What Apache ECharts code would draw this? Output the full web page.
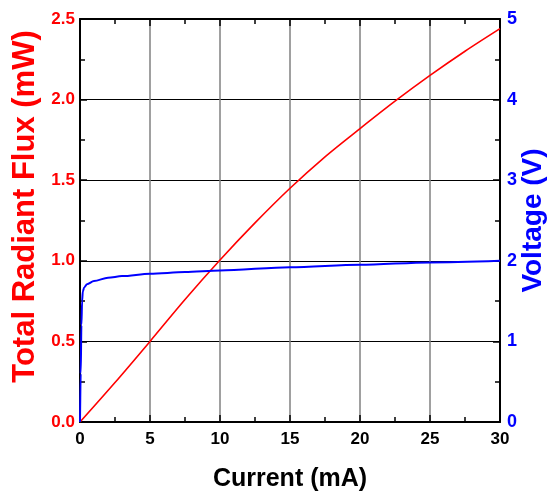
<!DOCTYPE html>
<html>
<head>
<meta charset="utf-8">
<script src="https://cdn.jsdelivr.net/npm/echarts@6/dist/echarts.min.js"></script>
<style>html,body{margin:0;padding:0;background:#fff}#c{width:555px;height:500px}</style>
</head>
<body>
<div id="c"></div>
<script>
const fluxCurrent = [0, 2.5, 5, 7.5, 10, 12.5, 15, 17.5, 20, 22.5, 25, 27.5, 30];
const fluxValues = [0, 0.245, 0.50, 0.76, 1.005, 1.235, 1.45, 1.645, 1.82, 1.99, 2.15, 2.30, 2.44];
const voltCurrent = [0, 0.05, 0.1, 0.15, 0.2, 0.3, 0.5, 1, 2, 3, 5, 7.5, 10, 15, 20, 25, 30];
const voltValues = [0, 0.6, 1.2, 1.5, 1.62, 1.67, 1.71, 1.75, 1.79, 1.81, 1.84, 1.86, 1.88, 1.92, 1.95, 1.98, 2.0];
const xTicks = [0, 5, 10, 15, 20, 25, 30];

const font = '"Liberation Sans", Arial, sans-serif';
const chart = echarts.init(document.getElementById('c'), null, {renderer: 'canvas'});
const tickInside = {show: true, inside: true, length: 7, lineStyle: {color: '#000', width: 1.5}};
const minorInside = {show: true, splitNumber: 2, length: 5, lineStyle: {color: '#000', width: 1.5}};
chart.setOption({
  animation: false,
  grid: {left: 80, right: 55, top: 19, bottom: 78, outerBoundsMode: 'none', containLabel: false},
  xAxis: [{
    type: 'value', min: 0, max: 30, interval: 5, position: 'bottom',
    name: 'Current (mA)', nameLocation: 'middle', nameGap: 45,
    nameTextStyle: {fontFamily: font, fontWeight: 'bold', fontSize: 25, color: '#000'},
    axisLine: {show: true, onZero: false, lineStyle: {color: '#000', width: 2}},
    axisTick: tickInside, minorTick: minorInside,
    axisLabel: {fontFamily: font, fontWeight: 'bold', fontSize: 17, color: '#000', margin: 9,
      formatter: v => xTicks.includes(v) ? String(v) : ''},
    splitLine: {show: true, lineStyle: {color: '#808080', width: 1.5}}
  }, {
    type: 'value', min: 0, max: 30, interval: 5, position: 'top',
    axisLine: {show: true, onZero: false, lineStyle: {color: '#000', width: 2}},
    axisTick: tickInside, minorTick: minorInside,
    axisLabel: {show: false}, splitLine: {show: false}
  }],
  yAxis: [{
    type: 'value', min: 0, max: 2.5, interval: 0.5, position: 'left',
    name: 'Total Radiant Flux (mW)', nameLocation: 'middle', nameGap: 38,
    nameTextStyle: {fontFamily: font, fontWeight: 'bold', fontSize: 31, color: '#ff0000', padding: [0, 0, 0, 28]},
    axisLine: {show: true, onZero: false, lineStyle: {color: '#000', width: 2}},
    axisTick: tickInside, minorTick: minorInside,
    axisLabel: {fontFamily: font, fontWeight: 'bold', fontSize: 17, color: '#ff0000', margin: 5,
      formatter: v => v.toFixed(1)},
    splitLine: {show: true, lineStyle: {color: '#000', width: 1}}
  }, {
    type: 'value', min: 0, max: 5, interval: 1, position: 'right',
    name: 'Voltage (V)', nameLocation: 'middle', nameGap: 19, nameMoveOverlap: false,
    nameTextStyle: {fontFamily: font, fontWeight: 'bold', fontSize: 28, color: '#0000ff'},
    axisLine: {show: true, onZero: false, lineStyle: {color: '#000', width: 2}},
    axisTick: tickInside, minorTick: minorInside,
    axisLabel: {fontFamily: font, fontWeight: 'bold', fontSize: 18, color: '#0000ff', margin: 7},
    splitLine: {show: false}
  }],
  series: [{
    type: 'line', xAxisIndex: 0, yAxisIndex: 0, showSymbol: false, symbol: 'none',
    smooth: 0.3, lineStyle: {color: '#ff0000', width: 1.6},
    data: fluxCurrent.map((x, i) => [x, fluxValues[i]])
  }, {
    type: 'line', xAxisIndex: 0, yAxisIndex: 1, showSymbol: false, symbol: 'none',
    smooth: 0.3, smoothMonotone: 'x', lineStyle: {color: '#0000ff', width: 2},
    data: voltCurrent.map((x, i) => [x, voltValues[i]])
  }]
});
</script>
</body>
</html>
